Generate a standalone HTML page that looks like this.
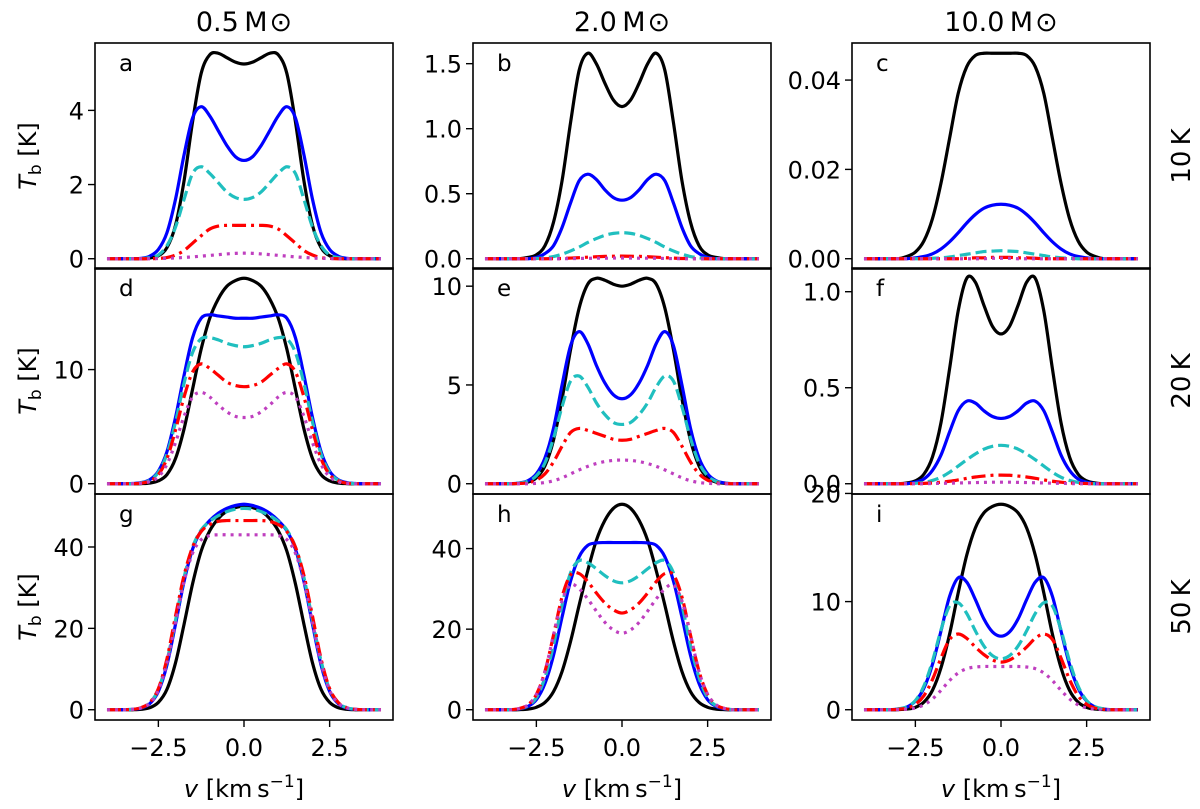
<!DOCTYPE html>
<html><head><meta charset="utf-8"><style>
body{margin:0;background:#fff;}
svg{display:block;font-family:"DejaVu Sans","Liberation Sans",sans-serif;}
</style></head><body>
<svg id="fig" width="1200" height="809" viewBox="0 0 1200 809"></svg>
<script>
// velocity grid for half profiles (v = 0 ... ), mirrored for negative v
const halfV=[0,0.25,0.5,0.75,1.0,1.25,1.5,1.75,2.0,2.25,2.5,2.75,3.0,3.25,3.5];
const columns=["0.5\u2009M","2.0\u2009M","10.0\u2009M"];
const rowsT=["10\u2009K","20\u2009K","50\u2009K"];
const letters=["a","b","c","d","e","f","g","h","i"];
const xTicks=[-2.5,0,2.5];
// panel a
const a_black=[5.25,5.3,5.42,5.54,5.5,5.0,3.7,2.1,0.9,0.3,0.08,0.02,0];
const a_blue=[2.65,2.75,3.05,3.45,3.85,4.1,3.8,2.8,1.6,0.7,0.25,0.07,0.01];
const a_cyan=[1.6,1.65,1.8,2.05,2.3,2.48,2.3,1.6,0.85,0.35,0.1,0.03,0];
const a_red=[0.9,0.9,0.9,0.88,0.8,0.62,0.42,0.22,0.1,0.03,0.01,0];
const a_mag=[0.15,0.145,0.13,0.11,0.09,0.07,0.05,0.035,0.02,0.01,0.005,0];
// panel b
const b_black=[1.17,1.22,1.35,1.5,1.58,1.45,1.05,0.6,0.28,0.1,0.03,0.01,0];
const b_blue=[0.45,0.47,0.53,0.61,0.65,0.6,0.43,0.24,0.1,0.04,0.01,0];
const b_cyan=[0.2,0.195,0.18,0.155,0.125,0.09,0.06,0.035,0.017,0.007,0.002,0];
const b_red=[0.02,0.019,0.018,0.015,0.012,0.008,0.005,0.002,0.001,0];
const b_mag=[0.005,0.005,0.004,0.004,0.003,0.002,0.001,0];
// panel c
const c_black=[0.046,0.046,0.046,0.0455,0.043,0.037,0.027,0.017,0.009,0.004,0.0015,0.0005,0];
const c_blue=[0.0122,0.012,0.0113,0.0099,0.008,0.0058,0.0038,0.0022,0.0011,0.0005,0.0002,0];
const c_cyan=[0.0018,0.0017,0.0016,0.0013,0.001,0.0007,0.0004,0.0002,0.0001,0];
const c_red=[0.0003,0.0003,0.0002,0.0002,0.0001,0];
const c_mag=[0.0001,0.0001,0];
// panel d
const d_black=[18,17.8,17.3,16.2,14.5,11.8,8.3,4.8,2.2,0.8,0.25,0.06,0.01,0];
const d_blue=[14.5,14.5,14.6,14.7,14.8,14.5,12.8,9.5,5.8,2.8,1.1,0.35,0.1,0.02,0];
const d_cyan=[12.0,12.1,12.3,12.6,12.8,12.7,11.5,8.8,5.4,2.6,1.0,0.3,0.08,0];
const d_red=[8.5,8.6,8.9,9.5,10.1,10.5,9.8,7.6,4.7,2.2,0.8,0.25,0.05,0];
const d_mag=[5.8,5.9,6.3,6.9,7.6,8.0,7.6,5.9,3.6,1.7,0.6,0.18,0.04,0];
// panel e
const e_black=[10.0,10.1,10.3,10.4,10.1,8.9,6.8,4.3,2.2,0.9,0.3,0.08,0.02,0];
const e_blue=[4.3,4.5,5.1,6.0,7.1,7.7,7.0,5.0,2.8,1.3,0.5,0.15,0.04,0];
const e_cyan=[3.0,3.1,3.5,4.1,4.9,5.45,5.2,3.9,2.3,1.05,0.4,0.12,0.03,0];
const e_red=[2.2,2.25,2.4,2.55,2.7,2.8,2.6,1.9,1.1,0.5,0.18,0.05,0.01,0];
const e_mag=[1.2,1.18,1.12,1.02,0.88,0.7,0.5,0.3,0.15,0.06,0.02,0];
// panel f
const f_black=[0.78,0.82,0.93,1.05,1.07,0.9,0.6,0.32,0.14,0.05,0.015,0.004,0];
const f_blue=[0.34,0.35,0.38,0.42,0.43,0.38,0.27,0.15,0.07,0.025,0.008,0];
const f_cyan=[0.2,0.195,0.18,0.155,0.125,0.092,0.06,0.034,0.017,0.007,0.002,0];
const f_red=[0.045,0.044,0.04,0.035,0.028,0.02,0.013,0.008,0.004,0.002,0.001,0];
const f_mag=[0.008,0.008,0.007,0.006,0.005,0.004,0.003,0.002,0.001,0];
// panel g
const g_black=[50,49.7,48.8,47,44,39,31,21,11.5,5,1.8,0.5,0.1,0];
const g_blue=[50.5,50.2,49.5,48.3,46.5,44,39.5,31.5,21,11,4.5,1.5,0.4,0.1,0];
const g_cyan=[49.5,49.3,48.7,47.7,46.3,44.2,40,32.5,22,12,5,1.7,0.5,0.1,0];
const g_red=[46.5,46.5,46.5,46.3,45.5,43.8,40,33,23,12.5,5.2,1.8,0.5,0.1,0];
const g_mag=[43,43,43,43,42.8,41.8,38.5,31.5,21.5,11.5,4.8,1.6,0.45,0.1,0];
// panel h
const h_black=[51,50,47,42,34.5,26,17,9.5,4.5,1.8,0.6,0.15,0.03,0];
const h_blue=[41.5,41.5,41.5,41.4,40.8,38,32,23,13.5,6.5,2.5,0.8,0.2,0];
const h_cyan=[31.5,32,33.3,35,36.5,37,34,26,16,8,3,1,0.25,0];
const h_red=[24,24.8,26.5,29,31.8,33.8,33.5,28,18.5,9.5,3.8,1.2,0.3,0];
const h_mag=[19,19.8,21.7,24.5,27.5,30,31,27,18.5,9.5,3.8,1.2,0.3,0];
// panel i
const i_black=[19,18.8,18.2,16.8,14.3,10.8,7,3.9,1.8,0.7,0.22,0.06,0.01,0];
const i_blue=[6.8,7.2,8.4,10.2,11.8,12.2,10.5,7.3,4.2,2.0,0.8,0.25,0.07,0];
const i_cyan=[4.7,5.0,5.9,7.3,8.9,9.9,9.6,7.4,4.5,2.2,0.85,0.28,0.08,0];
const i_red=[4.4,4.6,5.1,5.8,6.6,7.0,6.5,4.8,2.8,1.3,0.5,0.15,0.04,0];
const i_mag=[4.0,4.0,4.0,3.95,3.8,3.4,2.7,1.8,1.0,0.45,0.17,0.05,0.01,0];
// y ticks per panel
const yTicksA=[0,2,4], yTicksB=[0,0.5,1.0,1.5], yTicksC=[0,0.02,0.04];
const yTicksD=[0,10], yTicksE=[0,5,10], yTicksF=[0,0.5,1.0];
const yTicksG=[0,20,40], yTicksH=[0,20,40], yTicksI=[0,10,20];
const yDec=[0,1,2,0,0,1,0,0,0];

const panels=[
 [a_black,a_blue,a_cyan,a_red,a_mag],[b_black,b_blue,b_cyan,b_red,b_mag],[c_black,c_blue,c_cyan,c_red,c_mag],
 [d_black,d_blue,d_cyan,d_red,d_mag],[e_black,e_blue,e_cyan,e_red,e_mag],[f_black,f_blue,f_cyan,f_red,f_mag],
 [g_black,g_blue,g_cyan,g_red,g_mag],[h_black,h_blue,h_cyan,h_red,h_mag],[i_black,i_blue,i_cyan,i_red,i_mag]];
const yTicks=[yTicksA,yTicksB,yTicksC,yTicksD,yTicksE,yTicksF,yTicksG,yTicksH,yTicksI];
const seriesNames=["black","blue","cyan","red","magenta"];
const styles=[
 {c:"#000000",d:""},{c:"#0000ff",d:""},{c:"#20bfbf",d:"11,5"},{c:"#ff0000",d:"14,5,3,5"},{c:"#bf3fbf",d:"3,5"}];

const NS="http://www.w3.org/2000/svg";
const svg=document.getElementById("fig");
function el(t,a,p){const e=document.createElementNS(NS,t);for(const k in a)e.setAttribute(k,a[k]);(p||svg).appendChild(e);return e;}
const colX=[95,473,852], PW=298;
const rowY=[43,268,494], PH=226;
const XMIN=-4.35,XMAX=4.35;
const FS=24;

for(let c=0;c<3;c++){
  const t=el("text",{x:colX[c]+PW/2,y:31,"text-anchor":"middle","font-size":27});
  
  
  t.textContent=columns[c];
  const s=el("tspan",{"font-size":27,dx:2},t); s.textContent="\u2299";
}
for(let r=0;r<3;r++){
  const cy=rowY[r]+PH/2;
  const t=el("text",{x:1190,y:cy,"text-anchor":"middle","font-size":26,transform:`rotate(-90 1190 ${cy})`});
  
  
  t.textContent=rowsT[r];
  const yl=el("text",{x:36,y:cy,"text-anchor":"middle","font-size":FS,transform:`rotate(-90 36 ${cy})`});
  
  
  const i1=el("tspan",{"font-style":"italic"},yl); i1.textContent="T";
  const i2=el("tspan",{"font-size":17,dy:5},yl); i2.textContent="b";
  const i3=el("tspan",{dy:-5},yl); i3.textContent=" [K]";
}

function pathFrom(pts){
  let d=`M${pts[0][0].toFixed(2)},${pts[0][1].toFixed(2)}`;
  for(let i=0;i<pts.length-1;i++){
    const p0=pts[Math.max(0,i-1)],p1=pts[i],p2=pts[i+1],p3=pts[Math.min(pts.length-1,i+2)];
    const c1x=p1[0]+(p2[0]-p0[0])/6,c1y=p1[1]+(p2[1]-p0[1])/6;
    const c2x=p2[0]-(p3[0]-p1[0])/6,c2y=p2[1]-(p3[1]-p1[1])/6;
    d+=`C${c1x.toFixed(2)},${c1y.toFixed(2)} ${c2x.toFixed(2)},${c2y.toFixed(2)} ${p2[0].toFixed(2)},${p2[1].toFixed(2)}`;
  }
  return d;
}

for(let p=0;p<9;p++){
  const r=Math.floor(p/3),c=p%3;
  const x0=colX[c],y0=rowY[r];
  const ser=panels[p];
  let M=0; ser.forEach(s=>s.forEach(v=>{if(v>M)M=v;}));
  const ymin=-0.05*M,ymax=1.05*M;
  const X=v=>x0+(v-XMIN)/(XMAX-XMIN)*PW;
  const Y=v=>y0+PH-(v-ymin)/(ymax-ymin)*PH;
  const g=el("g",{});
  
  
  const clipId="clip"+p;
  const cp=el("clipPath",{id:clipId},g); el("rect",{x:x0,y:y0,width:PW,height:PH},cp);
  const lg=el("g",{"clip-path":`url(#${clipId})`},g);
  for(let s=0;s<5;s++){
    const half=ser[s];
    const full=[];
    for(let k=0;k<=32;k++){
      const v=-4+k*0.25, a=Math.abs(v);
      const idx=Math.round(a/0.25);
      const val=idx<half.length?half[idx]:0;
      full.push([X(v),Y(val)]);
    }
    const path=el("path",{d:pathFrom(full),fill:"none",stroke:styles[s].c,"stroke-width":3.2,"stroke-dasharray":styles[s].d,"stroke-linejoin":"round"},lg);
    
    
  }
  const fr=el("rect",{x:x0,y:y0,width:PW,height:PH,fill:"none",stroke:"#000","stroke-width":1.6},g);
  
  
  const lt=el("text",{x:x0+24,y:y0+28,"font-size":23},g);
  
  
  lt.textContent=letters[p];
  yTicks[p].forEach(tv=>{
    const yy=Y(tv);
    el("line",{x1:x0-7,x2:x0,y1:yy,y2:yy,stroke:"#000","stroke-width":1.4},g);
    const tl=el("text",{x:x0-11,y:yy+9,"text-anchor":"end","font-size":FS},g);
    
    
    tl.textContent=tv.toFixed(yDec[p]);
  });
  if(r===2){
    xTicks.forEach(tv=>{
      const xx=X(tv);
      el("line",{x1:xx,x2:xx,y1:y0+PH,y2:y0+PH+7,stroke:"#000","stroke-width":1.4},g);
      const tl=el("text",{x:xx,y:y0+PH+36,"text-anchor":"middle","font-size":FS},g);
      
      
      tl.textContent=(tv<0?"\u2212":"")+Math.abs(tv).toFixed(1);
    });
    const xl=el("text",{x:x0+PW/2,y:797,"text-anchor":"middle","font-size":FS},g);
    
    
    const v1=el("tspan",{"font-style":"italic"},xl); v1.textContent="v";
    const v2=el("tspan",{},xl); v2.textContent=" [km\u2009s";
    const v3=el("tspan",{"font-size":17,dy:-10},xl); v3.textContent="\u22121";
    const v4=el("tspan",{dy:10},xl); v4.textContent="]";
  }
}
</script>
</body></html>
